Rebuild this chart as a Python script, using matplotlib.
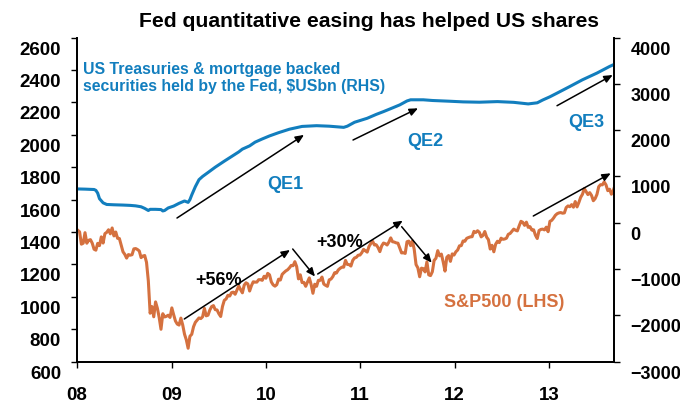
import matplotlib
matplotlib.use('Agg')
import matplotlib.pyplot as plt
from matplotlib.transforms import ScaledTranslation
import pandas as pd

plt.rcParams['font.family'] = ['Liberation Sans', 'DejaVu Sans']
plt.rcParams['font.weight'] = 'bold'

# ---------------- data ----------------
title = "Fed quantitative easing has helped US shares"

# S&P 500 weekly closes (LHS)
spx_2008 = [1411, 1401, 1325, 1331, 1396, 1331, 1349, 1353, 1331, 1294, 1288, 1330, 1316,
            1370, 1332, 1390, 1398, 1414, 1389, 1425, 1376, 1400, 1361, 1360, 1318, 1278,
            1262, 1239, 1261, 1257, 1260, 1296, 1298, 1292, 1283, 1242, 1252, 1255, 1213,
            1099, 899, 940, 877, 969, 930, 873, 800, 896, 876, 880, 887, 873]
spx_2009 = [932, 890, 851, 832, 826, 869, 827, 770, 735, 683, 757, 769, 816, 843, 857, 870,
            866, 877, 929, 883, 887, 919, 940, 946, 921, 919, 896, 879, 941, 979, 987, 1010,
            1005, 1026, 1029, 1016, 1042, 1068, 1044, 1025, 1072, 1087, 1080, 1036, 1069,
            1093, 1091, 1091, 1106, 1106, 1102, 1127, 1115]
spx_2010 = [1145, 1136, 1092, 1074, 1066, 1075, 1109, 1104, 1139, 1150, 1160, 1167, 1179,
            1194, 1192, 1217, 1187, 1111, 1136, 1088, 1089, 1065, 1092, 1117, 1076, 1022,
            1078, 1065, 1102, 1102, 1122, 1079, 1071, 1065, 1105, 1110, 1125, 1149, 1147,
            1166, 1176, 1183, 1183, 1225, 1200, 1199, 1190, 1225, 1240, 1244, 1257, 1258]
spx_2011 = [1272, 1293, 1284, 1276, 1311, 1329, 1343, 1320, 1321, 1304, 1279, 1314, 1332,
            1328, 1320, 1338, 1364, 1340, 1338, 1333, 1331, 1300, 1271, 1272, 1268, 1340,
            1344, 1316, 1345, 1292, 1199, 1179, 1124, 1177, 1174, 1154, 1216, 1136, 1131,
            1155, 1225, 1238, 1285, 1253, 1264, 1216, 1159, 1244, 1255, 1219, 1265, 1258]
spx_2012 = [1278, 1289, 1315, 1316, 1345, 1343, 1361, 1366, 1370, 1371, 1404, 1397, 1408,
            1398, 1370, 1379, 1403, 1369, 1353, 1295, 1318, 1278, 1325, 1343, 1335, 1362,
            1355, 1357, 1362, 1386, 1391, 1405, 1418, 1411, 1407, 1438, 1466, 1460, 1441,
            1461, 1429, 1433, 1412, 1414, 1380, 1360, 1409, 1416, 1418, 1413, 1430, 1402]
spx_2013 = [1466, 1472, 1486, 1503, 1513, 1518, 1520, 1516, 1518, 1551, 1561, 1556, 1569,
            1553, 1588, 1555, 1582, 1614, 1633, 1668, 1650, 1631, 1643, 1626, 1593, 1606,
            1632, 1680, 1692, 1691, 1709, 1691, 1655, 1664, 1633, 1655, 1688]
spx = spx_2008 + spx_2009 + spx_2010 + spx_2011 + spx_2012 + spx_2013
spx_dates = pd.date_range('2008-01-04', periods=len(spx), freq='W-FRI')

# Fed holdings of Treasuries & MBS, $USbn (RHS)
fed_dates = ['2008-01-04', '2008-02-01', '2008-03-07', '2008-03-14', '2008-03-21', '2008-03-28',
             '2008-04-11', '2008-04-25', '2008-05-23', '2008-06-27', '2008-07-25', '2008-08-15',
             '2008-09-05', '2008-09-19', '2008-10-03', '2008-10-10', '2008-10-31', '2008-11-21',
             '2008-11-28', '2008-12-05', '2008-12-19', '2009-01-09', '2009-01-30', '2009-02-20',
             '2009-03-06', '2009-03-13', '2009-03-20', '2009-04-03', '2009-04-17', '2009-05-01',
             '2009-05-22', '2009-06-19', '2009-07-24', '2009-08-21', '2009-09-18', '2009-10-02',
             '2009-10-30', '2009-11-20', '2009-12-18', '2010-01-15', '2010-02-19', '2010-04-02',
             '2010-05-21', '2010-07-16', '2010-09-03', '2010-10-29', '2010-11-12', '2010-12-10',
             '2011-01-28', '2011-03-04', '2011-04-01', '2011-05-06', '2011-06-03', '2011-07-01',
             '2011-07-15', '2011-09-02', '2011-10-07', '2011-12-09', '2012-02-03', '2012-04-06',
             '2012-06-15', '2012-08-17', '2012-10-12', '2012-11-16', '2012-12-07', '2013-01-04',
             '2013-02-01', '2013-03-22', '2013-05-10', '2013-07-05', '2013-08-23', '2013-09-06']
fed_vals = [730, 726, 718, 700, 640, 520,
            430, 395, 388, 382, 375, 365,
            345, 310, 265, 290, 290, 285,
            255, 265, 320, 360, 420, 470,
            440, 500, 600, 780, 930, 1000,
            1085, 1200, 1330, 1430, 1530, 1590,
            1660, 1740, 1810, 1875, 1945, 2020,
            2080, 2096, 2085, 2060, 2085, 2170,
            2256, 2340, 2400, 2480, 2545, 2630,
            2655, 2655, 2640, 2625, 2610, 2603,
            2616, 2600, 2566, 2590, 2650, 2720,
            2800, 2942, 3087, 3232, 3375, 3410]

year_ticks = ['2008', '2009', '2010', '2011', '2012', '2013']
year_labels = ['08', '09', '10', '11', '12', '13']
lhs_ticks = [600, 800, 1000, 1200, 1400, 1600, 1800, 2000, 2200, 2400, 2600]
rhs_ticks = [-3000, -2000, -1000, 0, 1000, 2000, 3000, 4000]

# ---------------- style ----------------
BLUE = '#127EBE'
ORANGE = '#D5713F'

fig = plt.figure(figsize=(6.8, 4.05), dpi=100)
ax = fig.add_axes([77 / 680, 1 - 361.7 / 405, 537 / 680, 324.2 / 405])
ax2 = ax.twinx()

ax.plot(spx_dates, spx, color=ORANGE, lw=2.2, solid_joinstyle='round')
ax2.plot(pd.to_datetime(fed_dates), fed_vals, color=BLUE, lw=2.2, solid_joinstyle='round')

ax.set_xlim(pd.Timestamp('2008-01-01'), pd.Timestamp('2013-09-09'))
ax.set_xticks(pd.to_datetime([y + '-01-01' for y in year_ticks]))
ax.set_xticklabels(year_labels)
ax.set_ylim(lhs_ticks[0], lhs_ticks[-1])
ax.set_yticks(lhs_ticks)
ax2.set_ylim(rhs_ticks[0], rhs_ticks[-1])
ax2.set_yticks(rhs_ticks)

for a in (ax, ax2):
    a.spines['top'].set_visible(False)
    for s in a.spines.values():
        s.set_linewidth(1.3)
        s.set_color('black')
ax.tick_params(axis='y', direction='out', length=4.5, width=1.0, pad=7, labelsize=13.5)
ax.tick_params(axis='x', direction='out', length=4.5, width=1.0, pad=13.5, labelsize=13.5)
ax2.tick_params(axis='y', direction='out', length=4.5, width=1.0, pad=7.5, labelsize=13)

# tick labels sit slightly below their tick marks, as in the reference
off = ScaledTranslation(0, -10.5 / 100, fig.dpi_scale_trans)
for lbl in ax.get_yticklabels() + ax2.get_yticklabels():
    lbl.set_transform(lbl.get_transform() + off)
    lbl.set_fontweight('bold')
for lbl in ax.get_xticklabels():
    lbl.set_fontweight('bold')

fig.text(0.543, 0.947, title, ha='center', va='center', fontsize=15.2, fontweight='bold')

tr = ax.transAxes
ax.text(0.0112, 0.876, "US Treasuries & mortgage backed\nsecurities held by the Fed, $USbn (RHS)",
        transform=tr, ha='left', va='center', color=BLUE, fontsize=11.4,
        fontweight='bold', linespacing=1.2)
for txt, x, y, c in [("QE1", 0.3873, 0.5481, BLUE), ("QE2", 0.6480, 0.6804, BLUE),
                     ("QE3", 0.9479, 0.7365, BLUE), ("+56%", 0.2644, 0.2520, 'black'),
                     ("+30%", 0.4898, 0.3692, 'black'), ("S&P500 (LHS)", 0.7952, 0.1841, ORANGE)]:
    ax.text(x, y, txt, transform=tr, ha='center', va='center', color=c,
            fontsize=13, fontweight='bold', zorder=5)

arrows = [((0.1862, 0.4432), (0.4227, 0.6995)),
          ((0.5140, 0.6838), (0.6350, 0.7816)),
          ((0.8939, 0.7896), (0.9976, 0.8843)),
          ((0.1998, 0.1317), (0.3966, 0.3445)),
          ((0.4017, 0.3476), (0.4432, 0.2628)),
          ((0.4482, 0.2705), (0.6065, 0.4349)),
          ((0.6046, 0.4164), (0.6605, 0.3054)),
          ((0.8497, 0.4494), (0.9939, 0.5811))]
for (x0, y0), (x1, y1) in arrows:
    ax2.annotate('', xy=(x1, y1), xytext=(x0, y0), xycoords='axes fraction',
                 textcoords='axes fraction',
                 arrowprops=dict(arrowstyle='-|>,head_length=0.5,head_width=0.22',
                                 color='black', lw=1.1, shrinkA=0, shrinkB=0))

fig.savefig('out.png', dpi=100)
